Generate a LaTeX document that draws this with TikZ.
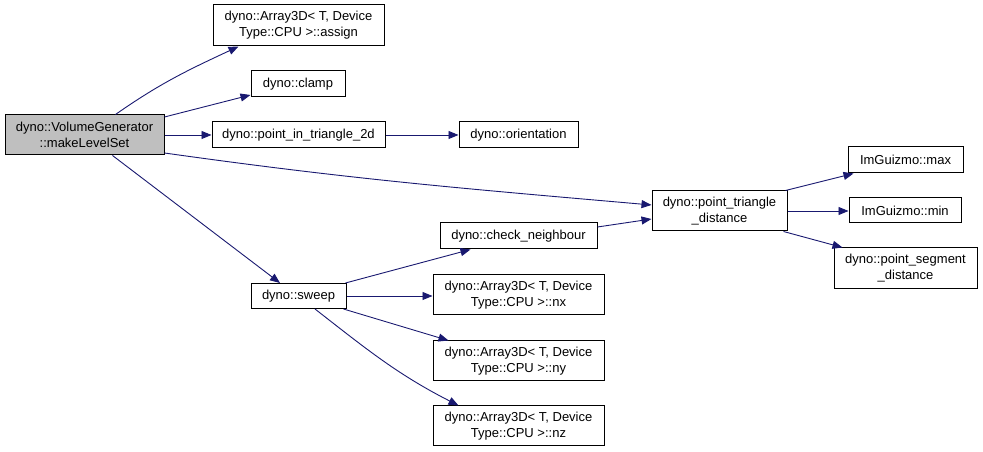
\documentclass[tikz,border=0pt]{standalone}
\usepackage{fontspec}
\setmainfont{Liberation Sans}
\usetikzlibrary{arrows.meta}
\definecolor{edgeblue}{HTML}{191970}
\definecolor{mainfill}{HTML}{BFBFBF}
\begin{document}
\begin{tikzpicture}[x=1pt,y=1pt,
  box/.style={draw=black,line width=1pt,fill=white,rectangle,inner sep=0pt,align=center,
    font=\fontsize{13}{16}\selectfont},
  edge/.style={draw=edgeblue,line width=0.9pt,-{Triangle[length=10pt,width=8pt]}},
]
\useasboundingbox (0,0) rectangle (983,452);
\node[box,fill=mainfill,minimum width=159pt,minimum height=40pt] (main) at (84.5,317) {dyno::VolumeGenerator\\::makeLevelSet};
\node[box,minimum width=171pt,minimum height=41pt] (assign) at (298.5,426.5) {dyno::Array3D< T, Device\\Type::CPU >::assign};
\node[box,minimum width=94pt,minimum height=26pt] (clamp) at (298,368) {dyno::clamp};
\node[box,minimum width=173pt,minimum height=26pt] (pit) at (298.5,317) {dyno::point\_in\_triangle\_2d};
\node[box,minimum width=119pt,minimum height=26pt] (orient) at (518.5,317) {dyno::orientation};
\node[box,minimum width=135pt,minimum height=40pt] (ptd) at (719.5,241) {dyno::point\_triangle\\\_distance};
\node[box,minimum width=157pt,minimum height=26pt] (check) at (518.5,216) {dyno::check\_neighbour};
\node[box,minimum width=95pt,minimum height=25pt] (sweep) at (298.5,156) {dyno::sweep};
\node[box,minimum width=171pt,minimum height=40pt] (nx) at (518.5,157) {dyno::Array3D< T, Device\\Type::CPU >::nx};
\node[box,minimum width=171pt,minimum height=40pt] (ny) at (518.5,91) {dyno::Array3D< T, Device\\Type::CPU >::ny};
\node[box,minimum width=171pt,minimum height=40pt] (nz) at (518.5,26) {dyno::Array3D< T, Device\\Type::CPU >::nz};
\node[box,minimum width=115pt,minimum height=26pt] (max) at (905.5,292) {ImGuizmo::max};
\node[box,minimum width=112pt,minimum height=25pt] (min) at (905,241.5) {ImGuizmo::min};
\node[box,minimum width=143pt,minimum height=41pt] (psd) at (905.5,183.5) {dyno::point\_segment\\\_distance};

\draw[edge] ([xshift=31pt]main.north) to[out=35,in=205] ([xshift=-60pt]assign.south);
\draw[edge] ([yshift=18pt]main.east) -- ([yshift=-11pt]clamp.west);
\draw[edge] (main.east) -- (pit.west);
\draw[edge] (pit.east) -- (orient.west);
\draw[edge] ([yshift=-18pt]main.east) to[out=-8,in=175] ([yshift=6pt]ptd.west);
\draw[edge] ([xshift=28pt]main.south) -- ([xshift=-18.5pt]sweep.north);
\draw[edge] ([xshift=-1pt]sweep.north east) -- ([xshift=-48pt]check.south);
\draw[edge] (sweep.east) -- (sweep.east -| nx.west);
\draw[edge] ([xshift=-3pt]sweep.south east) -- ([xshift=-70pt]ny.north);
\draw[edge] ([xshift=16.5pt]sweep.south) to[out=-38,in=153] ([xshift=-60pt]nz.north);
\draw[edge] ([yshift=9pt]check.east) -- ([yshift=-8pt]ptd.west);
\draw[edge] ([xshift=-2pt]ptd.north east) -- ([xshift=-52pt]max.south);
\draw[edge] (ptd.east) -- (ptd.east -| min.west);
\draw[edge] ([xshift=-4pt]ptd.south east) -- ([xshift=-63pt]psd.north);
\end{tikzpicture}
\end{document}
